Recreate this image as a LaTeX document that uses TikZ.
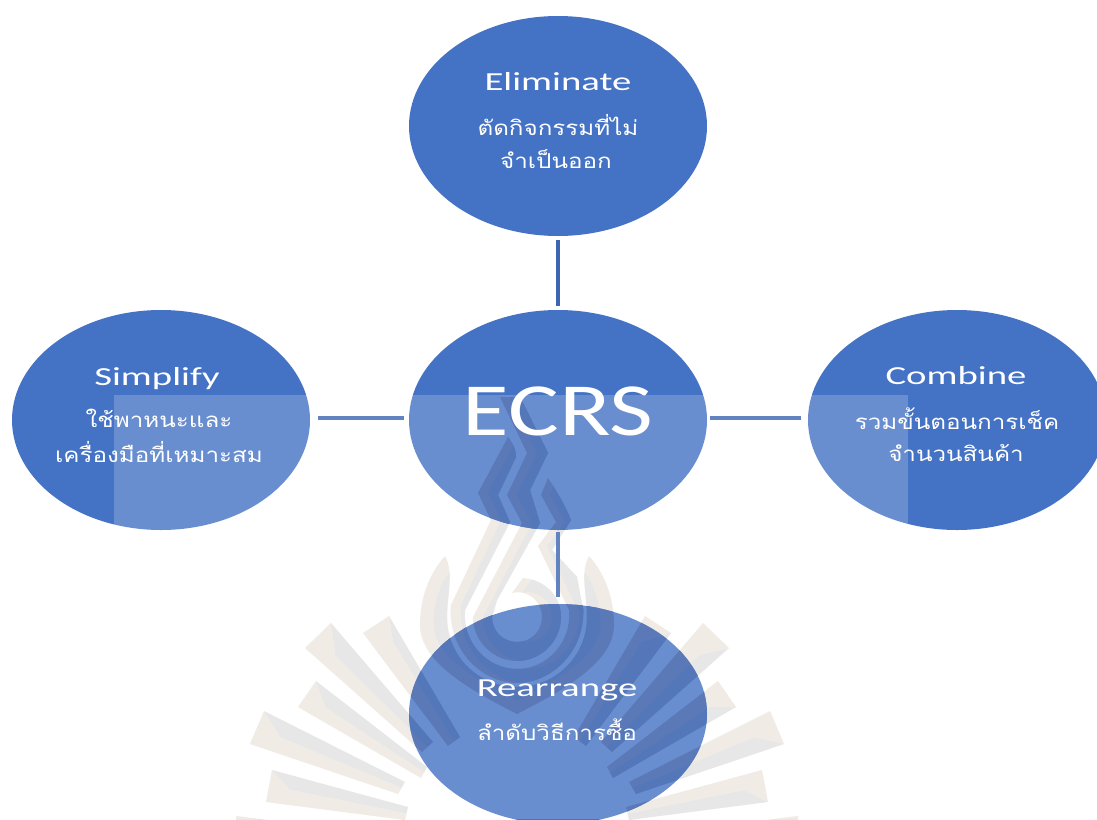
\documentclass[tikz,border=0pt]{standalone}
\usepackage{fontspec}
\setmainfont{Carlito}
\newfontfamily\thaifont[Script=Thai]{Loma}
\usetikzlibrary{shapes.geometric,calc}
\definecolor{blob}{HTML}{4472C4}
\definecolor{lineblue}{HTML}{3A66B2}
\definecolor{wmA}{HTML}{EDE7DF}
\definecolor{wmB}{HTML}{E2E2E1}
\definecolor{dkA}{HTML}{3357A6}
\definecolor{dkB}{HTML}{2A55A8}
\tikzset{
  blobnode/.style={ellipse,fill=blob,minimum width=298pt,minimum height=220pt,inner sep=0pt},
  conn/.style={draw=lineblue,line width=3.5pt},
  titletext/.style={text=white,font=\fontsize{26}{26}\selectfont,xscale=1.49,transform shape,inner sep=0pt},
  thaitext/.style={text=white,font=\thaifont\fontsize{20.5}{20.5}\selectfont,xscale=1.18,transform shape,inner sep=0pt},
}
% one ray: upper tip, lower tip, inner end upper, inner end lower, ridge point
\newcommand\rayL[5]{%
  \fill[fill=\wmcA] (#1)--(#2)--(#4)--($(#3)!.5!(#4)$)--(#5)--cycle;
  \fill[fill=\wmcB] (#1)--(#5)--($(#3)!.5!(#4)$)--(#3)--cycle;}
\newcommand\rayR[5]{%
  \fill[fill=\wmcA] (#2)--(#1)--(#3)--($(#3)!.5!(#4)$)--(#5)--cycle;
  \fill[fill=\wmcB] (#2)--(#5)--($(#3)!.5!(#4)$)--(#4)--cycle;}
\newcommand\allrays[1]{%
  #1{331,623}{305,648}{433,742}{422,752}{335,655}
  #1{389,616}{363,633}{460,737}{448,746}{393,642}
  #1{316,681}{298,707}{427,767}{421,778}{325,707}
  #1{264,711}{250,744}{405,782}{398,794}{280,737}
  #1{272,770}{266,802}{408,807}{405,820}{290,790}
  #1{236,816}{236,822}{300,824}{300,824}{260,820}}
\newcommand\pathOuter{(445,556) .. controls (428,575) and (420,600) .. (420,625)
  .. controls (420,662) and (470,690) .. (517,714)
  .. controls (564,690) and (614,662) .. (614,625)
  .. controls (614,600) and (606,575) .. (589,556)
  .. controls (580,572) and (587,595) .. (587,617)
  .. controls (587,656) and (556,687) .. (517,687)
  .. controls (478,687) and (447,656) .. (447,617)
  .. controls (447,595) and (454,572) .. (445,556) -- cycle}
\newcommand\pathLeft{(508,437) -- (478,493) -- (491,520) -- (451,605)
  .. controls (447,650) and (482,683) .. (517,683)
  .. controls (552,683) and (587,650) .. (583,605)
  -- (569,610)
  .. controls (572,642) and (547,669) .. (517,669)
  .. controls (487,669) and (462,642) .. (465,610)
  -- (510,522) -- (498,495) -- (516,457)
  .. controls (516,450) and (513,443) .. (508,437) -- cycle}
\newcommand\pathThird{(548,478) -- (541,495) -- (556,522) -- (538,546) -- (569,610)
  -- (583,610) -- (577,577) -- (552,550) -- (571,520)
  .. controls (565,505) and (556,490) .. (548,478) -- cycle}
\newcommand\pathSpiral{(520,397) -- (548,453) -- (530,490) -- (540,523) -- (497,600)
  -- (492,617)
  .. controls (492,631) and (503,642) .. (517,642)
  .. controls (531,642) and (542,631) .. (542,617)
  .. controls (542,603) and (531,592) .. (517,592)
  -- (512,593) -- (523,578)
  .. controls (545,580) and (561,596) .. (561,617)
  .. controls (561,641) and (541,661) .. (517,661)
  .. controls (493,661) and (473,641) .. (473,617)
  -- (522,523) -- (507,495) -- (527,453) -- (500,397) -- cycle}
\newcommand\twotone[2]{%
  \fill[fill=\wmcA] #1;
  \begin{scope}\clip #1;
    \begin{scope}[#2]\fill[fill=\wmcB] #1;\end{scope}
  \end{scope}}
\newcommand\wmark[2]{%
  \def\wmcA{#1}\def\wmcB{#2}%
  \allrays{\rayL}
  \begin{scope}[xshift=1034pt,xscale=-1]\allrays{\rayR}\end{scope}
  \twotone{\pathOuter}{shift={(517pt,-617pt)},scale=.86,shift={(-517pt,617pt)}}
  \twotone{\pathLeft}{xshift=10pt}
  \twotone{\pathThird}{xshift=9pt}
  \twotone{\pathSpiral}{xshift=10pt}}
\begin{document}
\begin{tikzpicture}[x=1pt,y=-1pt]
\useasboundingbox (0,0) rectangle (1097,819);
\clip (0,0) rectangle (1097,819);
\fill[white] (0,0) rectangle (1097,819);
\wmark{wmA}{wmB}
% circles
\node[blobnode] (ctr) at (558,420) {};
\node[blobnode] (top) at (558,126) {};
\node[blobnode] (lft) at (161,420) {};
\node[blobnode] (rgt) at (957,420) {};
\node[blobnode] (bot) at (558,714) {};
% connectors
\draw[conn,shorten <=4pt,shorten >=4pt] (top) -- (ctr);
\draw[conn,shorten <=8pt,shorten >=5pt] ([yshift=2pt]lft.east) -- ([yshift=2pt]ctr.west);
\draw[conn,shorten <=7pt,shorten >=3pt] ([yshift=2pt]rgt.west) -- ([yshift=2pt]ctr.east);
\draw[conn,shorten <=2pt,shorten >=7pt] (ctr) -- (bot);
% logo parts that show through the circles
\begin{scope}\clip (558,420) ellipse [x radius=149,y radius=110]; \wmark{dkA}{dkB}\end{scope}
\begin{scope}\clip (558,714) ellipse [x radius=149,y radius=110]; \wmark{dkA}{dkB}\end{scope}
% texts
\node[text=white,font=\fontsize{75}{75}\selectfont,xscale=1.27,transform shape,inner sep=0pt] (tc) at (558,411) {ECRS};
\node[titletext] (t1) at (558,82) {Eliminate};
\node[thaitext] (t1a) at (558,125) {ตัดกิจกรรมที่ไม่};
\node[thaitext] (t1b) at (556,159) {จำเป็นออก};
\node[titletext] (t2) at (157,379) {Simplify};
\node[thaitext] (t2a) at (159,418) {ใช้พาหนะและ};
\node[thaitext] (t2b) at (159,452) {เครื่องมือที่เหมาะสม};
\node[titletext] (t3) at (956,376) {Combine};
\node[thaitext] (t3a) at (957,419) {รวมขั้นตอนการเช็ค};
\node[thaitext] (t3b) at (956,453) {จำนวนสินค้า};
\node[titletext] (t4) at (557,690) {Rearrange};
\node[thaitext] (t4a) at (557,730) {ลำดับวิธีการซื้อ};
% veil over the lower middle
\fill[white,opacity=.2] (114,395) rectangle (908,819);
\end{tikzpicture}
\end{document}
